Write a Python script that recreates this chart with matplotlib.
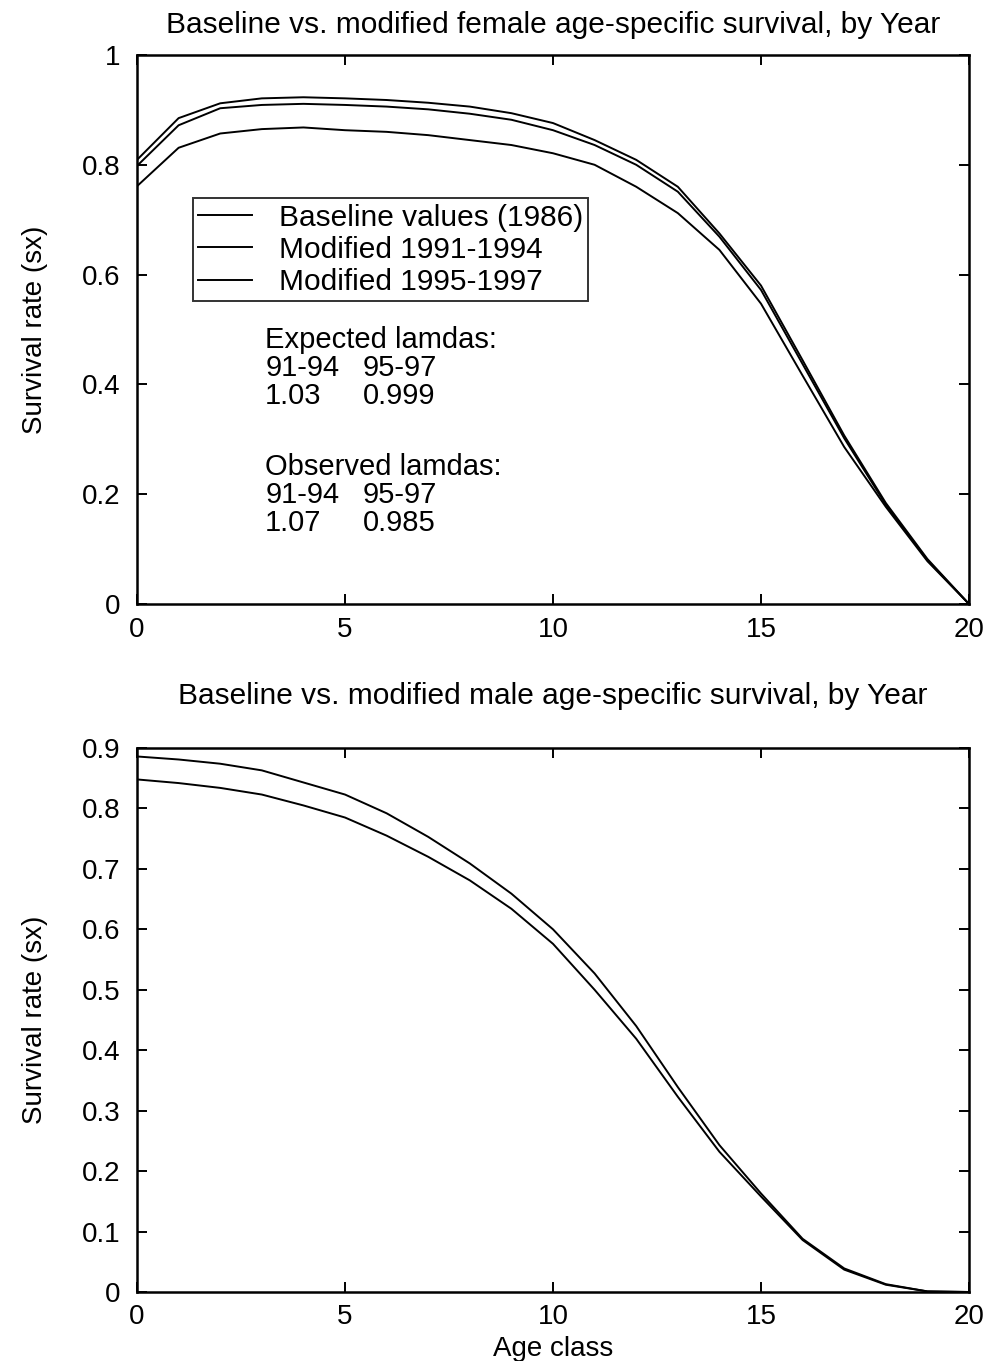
import matplotlib
matplotlib.use("Agg")
import matplotlib.pyplot as plt
import numpy as np

plt.rcParams['font.family'] = ['Liberation Sans', 'DejaVu Sans']

# age classes 0..20
ages = np.arange(0, 21)

# female survival (sx)
female_baseline = [0.798, 0.872, 0.903, 0.909, 0.911, 0.909, 0.906, 0.901, 0.893, 0.882,
                   0.863, 0.836, 0.800, 0.751, 0.669, 0.572, 0.437, 0.302, 0.181, 0.080, 0.0]
female_mod_9194 = [0.809, 0.885, 0.912, 0.921, 0.923, 0.921, 0.918, 0.913, 0.906, 0.894,
                   0.876, 0.845, 0.809, 0.760, 0.675, 0.580, 0.444, 0.307, 0.184, 0.082, 0.0]
female_mod_9597 = [0.761, 0.831, 0.857, 0.865, 0.868, 0.863, 0.860, 0.854, 0.845, 0.836,
                   0.821, 0.800, 0.760, 0.712, 0.645, 0.547, 0.416, 0.286, 0.177, 0.078, 0.0]

# male survival (sx)
male_baseline = [0.848, 0.842, 0.834, 0.823, 0.805, 0.785, 0.755, 0.720, 0.681, 0.634,
                 0.576, 0.500, 0.419, 0.323, 0.232, 0.158, 0.086, 0.037, 0.012, 0.001, 0.0]
male_modified = [0.886, 0.881, 0.874, 0.863, 0.843, 0.823, 0.792, 0.753, 0.709, 0.659,
                 0.600, 0.527, 0.440, 0.339, 0.243, 0.163, 0.088, 0.039, 0.013, 0.001, 0.0]

legend_labels = ["Baseline values (1986)", "Modified 1991-1994", "Modified 1995-1997"]

FS = 20
TFS = 21.5


def style_axes(ax, yticks, ylabels):
    ax.set_xlim(0, 20)
    ax.set_xticks([0, 5, 10, 15, 20])
    ax.set_xticklabels(["0", "5", "10", "15", "20"])
    ax.set_yticks(yticks)
    ax.set_yticklabels(ylabels)
    ax.tick_params(direction='in', top=True, right=True, length=7, width=1.4,
                   labelsize=FS)
    ax.tick_params(axis='y', pad=12)
    ax.tick_params(axis='x', pad=9)
    for s in ax.spines.values():
        s.set_linewidth(1.8)
    ax.set_ylabel("Survival rate (sx)", fontsize=FS, labelpad=24)


fig = plt.figure(figsize=(9.9, 13.61), dpi=100)

# female panel
ax1 = fig.add_axes([0.1384, 0.5562, 0.8404, 0.4034])
ax1.plot(ages, female_baseline, color='black', lw=1.4, label=legend_labels[0])
ax1.plot(ages, female_mod_9194, color='black', lw=1.4, label=legend_labels[1])
ax1.plot(ages, female_mod_9597, color='black', lw=1.4, label=legend_labels[2])
ax1.set_ylim(0, 1)
style_axes(ax1, np.arange(0, 1.01, 0.2), ["0", "0.2", "0.4", "0.6", "0.8", "1"])
ax1.set_title("Baseline vs. modified female age-specific survival, by Year",
              fontsize=TFS, pad=16)
leg = ax1.legend(loc='upper left', bbox_to_anchor=(0.067, 0.739), fontsize=21.5,
                 frameon=True, fancybox=False, edgecolor='black', handlelength=1.8,
                 handletextpad=0.9, labelspacing=0.14, borderpad=0.18,
                 borderaxespad=0)
leg.get_frame().set_linewidth(1.4)

# lambda notes
col1, col2 = 3.08, 5.43
notes = [(0.481, "Expected lamdas:", None),
         (0.430, "91-94", "95-97"),
         (0.379, "1.03", "0.999"),
         (0.250, "Observed lamdas:", None),
         (0.199, "91-94", "95-97"),
         (0.148, "1.07", "0.985")]
for yy, a, b in notes:
    ax1.text(col1, yy, a, fontsize=21, va='center', ha='left')
    if b:
        ax1.text(col2, yy, b, fontsize=21, va='center', ha='left')

# male panel
ax2 = fig.add_axes([0.1384, 0.0507, 0.8404, 0.3997])
ax2.plot(ages, male_baseline, color='black', lw=1.4)
ax2.plot(ages, male_modified, color='black', lw=1.4)
ax2.set_ylim(0, 0.9)
style_axes(ax2, np.arange(0, 0.91, 0.1),
           ["0", "0.1", "0.2", "0.3", "0.4", "0.5", "0.6", "0.7", "0.8", "0.9"])
ax2.set_title("Baseline vs. modified male age-specific survival, by Year",
              fontsize=TFS, pad=32)
ax2.set_xlabel("Age class", fontsize=FS, labelpad=4)

fig.savefig("out.png", dpi=100)
